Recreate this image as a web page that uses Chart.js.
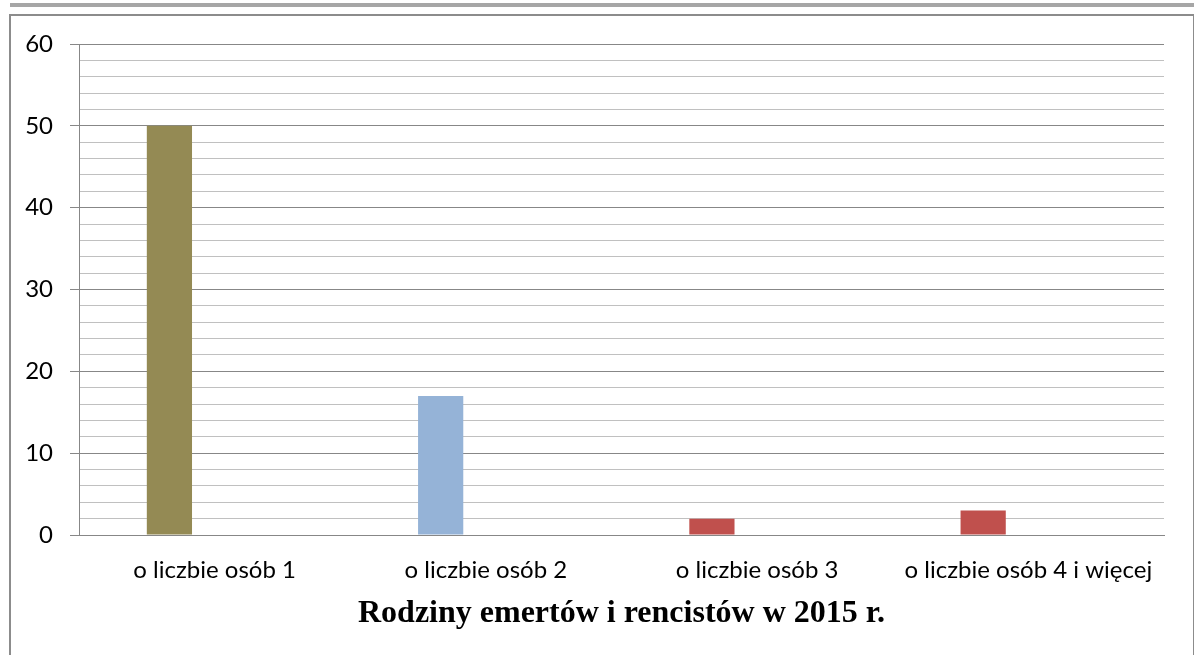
<!DOCTYPE html>
<html><head><meta charset="utf-8">
<script src="https://cdn.jsdelivr.net/npm/chart.js@4/dist/chart.umd.min.js"></script>
<style>
html,body{margin:0;padding:0;background:#fff;width:1194px;height:655px;overflow:hidden}
#topline{position:absolute;left:10px;top:3px;width:1184px;height:4px;background:#a6a6a6}
#frame{position:absolute;left:9px;top:14px;width:1182px;height:680px;border:2px solid #8c8c8c}
#wrap{position:absolute;left:0;top:0;width:1194px;height:655px}
</style></head><body>
<div id="topline"></div><div id="frame"></div>
<div id="wrap"><canvas id="c" width="1194" height="655"></canvas></div>
<script>
const categories = ['o liczbie osób 1', 'o liczbie osób 2', 'o liczbie osób 3', 'o liczbie osób 4 i więcej'];
const values = [50, 17, 2, 3];
const barColors = ['#948A54', '#95B3D7', '#C0504D', '#C0504D'];
const emptySeries = [null, null, null, null];
const yMin = 0, yMax = 60, yMajorStep = 10, yMinorStep = 2;
const chartTitle = 'Rodziny emertów i rencistów w 2015 r.';

const majorColor = '#878787', minorColor = '#c0c0c0';
const isMajor = v => v % yMajorStep === 0;

new Chart(document.getElementById('c'), {
  type: 'bar',
  data: {
    labels: categories,
    datasets: [
      { data: values, backgroundColor: barColors },
      { data: emptySeries },
      { data: emptySeries }
    ]
  },
  options: {
    responsive: false,
    animation: false,
    devicePixelRatio: 1,
    layout: { padding: { left: 0, right: 30, top: 44, bottom: 0 } },
    plugins: { legend: { display: false }, tooltip: { enabled: false }, title: { display: false } },
    datasets: { bar: { barPercentage: 1, categoryPercentage: 0.5 } },
    scales: {
      x: {
        grid: { display: false },
        border: { display: true, color: majorColor, width: 1 },
        ticks: { color: '#000', font: { family: 'Lato', size: 24 }, maxRotation: 0, autoSkip: false, padding: 13 },
        title: { display: true, text: chartTitle, color: '#000',
                 font: { family: 'Liberation Serif', size: 32, weight: 'bold' }, padding: { top: 0, bottom: 22 } },
        afterFit: s => { s.height = 120; }
      },
      y: {
        min: yMin, max: yMax,
        grid: {
          color: c => isMajor(c.tick.value) ? majorColor : minorColor,
          tickColor: c => isMajor(c.tick.value) ? majorColor : 'rgba(0,0,0,0)',
          tickLength: 9, lineWidth: 1, drawTicks: true
        },
        border: { display: true, color: majorColor, width: 1 },
        ticks: { stepSize: yMinorStep, autoSkip: false, color: '#000', padding: 17,
                 font: { family: 'Lato', size: 24 },
                 callback: v => isMajor(v) ? String(v) : '' },
        afterFit: s => { s.width = 79; }
      }
    }
  }
});
</script>
</body></html>
